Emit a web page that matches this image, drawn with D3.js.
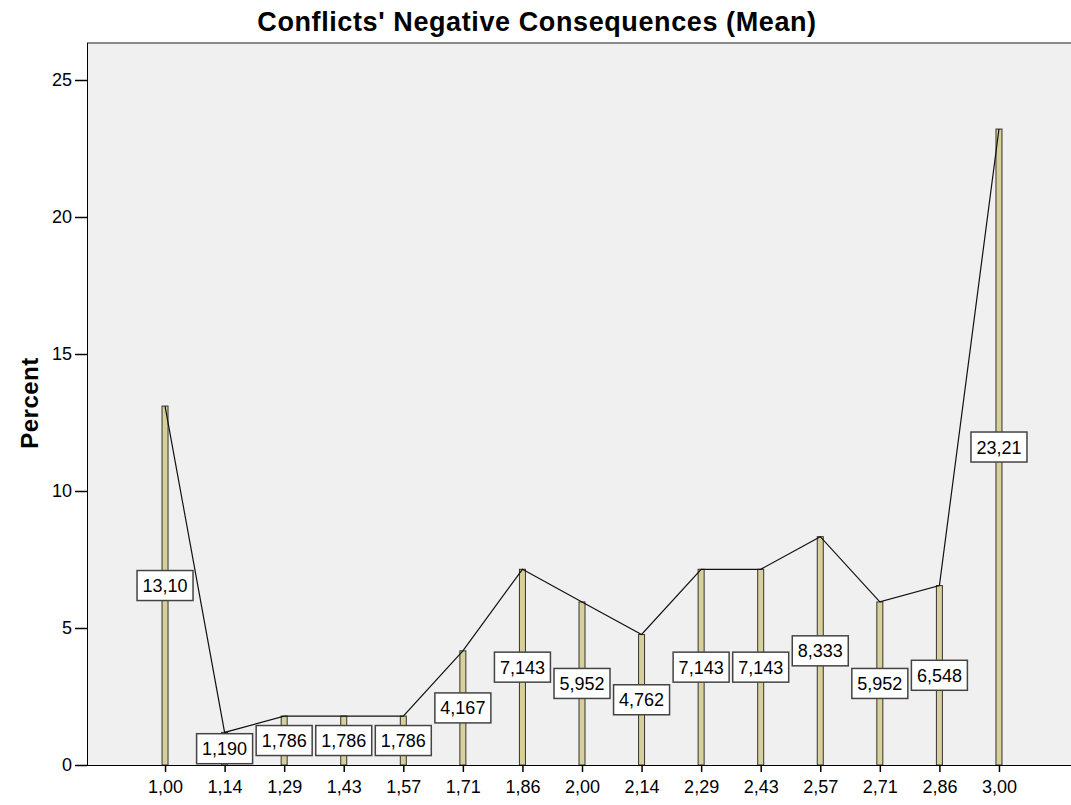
<!DOCTYPE html>
<meta charset="utf-8">
<style>
body{margin:0;background:#fff;}
svg text{font-family:"Liberation Sans",Arial,sans-serif;fill:#000;}
</style>
<svg id="chart" width="1071" height="805"></svg>
<script src="https://cdn.jsdelivr.net/npm/d3@7"></script>
<script>
// category labels (x) and percent values
const CATEGORIES = ['1,00','1,14','1,29','1,43','1,57','1,71','1,86','2,00','2,14','2,29','2,43','2,57','2,71','2,86','3,00']
const PERCENTS = [13.10, 1.190, 1.786, 1.786, 1.786, 4.167, 7.143, 5.952, 4.762, 7.143, 7.143, 8.333, 5.952, 6.548, 23.21]
const Y_TICKS = [0, 5, 10, 15, 20, 25]

const svg = d3.select('#chart')
const plotLeft = 87, plotTop = 43, plotBottom = 765, plotW = 990

// plot frame
svg.append('rect')
  .attr('x', plotLeft).attr('y', plotTop)
  .attr('width', plotW).attr('height', plotBottom - plotTop)
  .attr('fill', '#f0f0f0')
svg.append('line')
  .attr('x1', plotLeft).attr('x2', plotLeft + plotW)
  .attr('y1', plotTop).attr('y2', plotTop)
  .attr('stroke', '#8a8a8a').attr('stroke-width', 2)

const x = d3.scalePoint().domain(CATEGORIES).range([plotLeft, plotLeft + plotW]).padding(1.31)
const y = d3.scaleLinear().domain([0, 25]).range([plotBottom, 80])

// bars
svg.selectAll('rect.bar').data(PERCENTS).enter().append('rect')
  .attr('class', 'bar')
  .attr('x', (d, i) => x(CATEGORIES[i]) - 3)
  .attr('width', 6)
  .attr('y', d => y(d))
  .attr('height', d => plotBottom - y(d))
  .attr('fill', '#d8d09a')
  .attr('stroke', '#333')
  .attr('stroke-width', 1)

// line through bar tops
const line = d3.line()
  .x((d, i) => x(CATEGORIES[i]))
  .y(d => y(d))
svg.append('path')
  .datum(PERCENTS)
  .attr('d', line)
  .attr('fill', 'none')
  .attr('stroke', '#111')
  .attr('stroke-width', 1.2)

// axes
const yAxis = svg.append('g')
  .attr('transform', `translate(${plotLeft},0)`)
  .call(d3.axisLeft(y).tickValues(Y_TICKS).tickSize(12).tickPadding(3))
yAxis.select('.domain').attr('d', `M0.5,${plotTop}V${plotBottom}`).attr('stroke', '#000')
yAxis.selectAll('.tick line').attr('stroke-width', 1.5)
yAxis.selectAll('.tick text').style('font-size', '18px')

const xAxis = svg.append('g')
  .attr('transform', `translate(0,${plotBottom})`)
  .call(d3.axisBottom(x).tickSize(7).tickPadding(8))
xAxis.select('.domain').attr('d', `M${plotLeft},0.5H${plotLeft + plotW}`).attr('stroke', '#000')
xAxis.selectAll('.tick line').attr('stroke-width', 1.5)
xAxis.selectAll('.tick text').style('font-size', '18px')

// value labels, in the middle of each bar
const fmt = v => d3.format('.4r')(v).replace('.', ',')
const labels = svg.selectAll('g.lab').data(PERCENTS).enter().append('g')
  .attr('class', 'lab')
  .attr('transform', (d, i) => `translate(${x(CATEGORIES[i])},${(y(d) + plotBottom) / 2})`)
labels.append('rect')
  .attr('x', -28).attr('y', -15)
  .attr('width', 56).attr('height', 30)
  .attr('fill', '#fff')
  .attr('stroke', '#444')
  .attr('stroke-width', 1.5)
labels.append('text')
  .attr('text-anchor', 'middle')
  .attr('dy', '0.36em')
  .style('font-size', '18px')
  .text(d => fmt(d))

// titles
svg.append('text')
  .attr('x', 537).attr('y', 31)
  .attr('text-anchor', 'middle')
  .style('font', 'bold 27px "Liberation Sans", Arial, sans-serif')
  .style('letter-spacing', '0.6px')
  .text("Conflicts' Negative Consequences (Mean)")
svg.append('text')
  .attr('transform', 'translate(38,403) rotate(-90)')
  .attr('text-anchor', 'middle')
  .style('font', 'bold 24px "Liberation Sans", Arial, sans-serif')
  .style('letter-spacing', '0.5px')
  .text('Percent')
</script>
